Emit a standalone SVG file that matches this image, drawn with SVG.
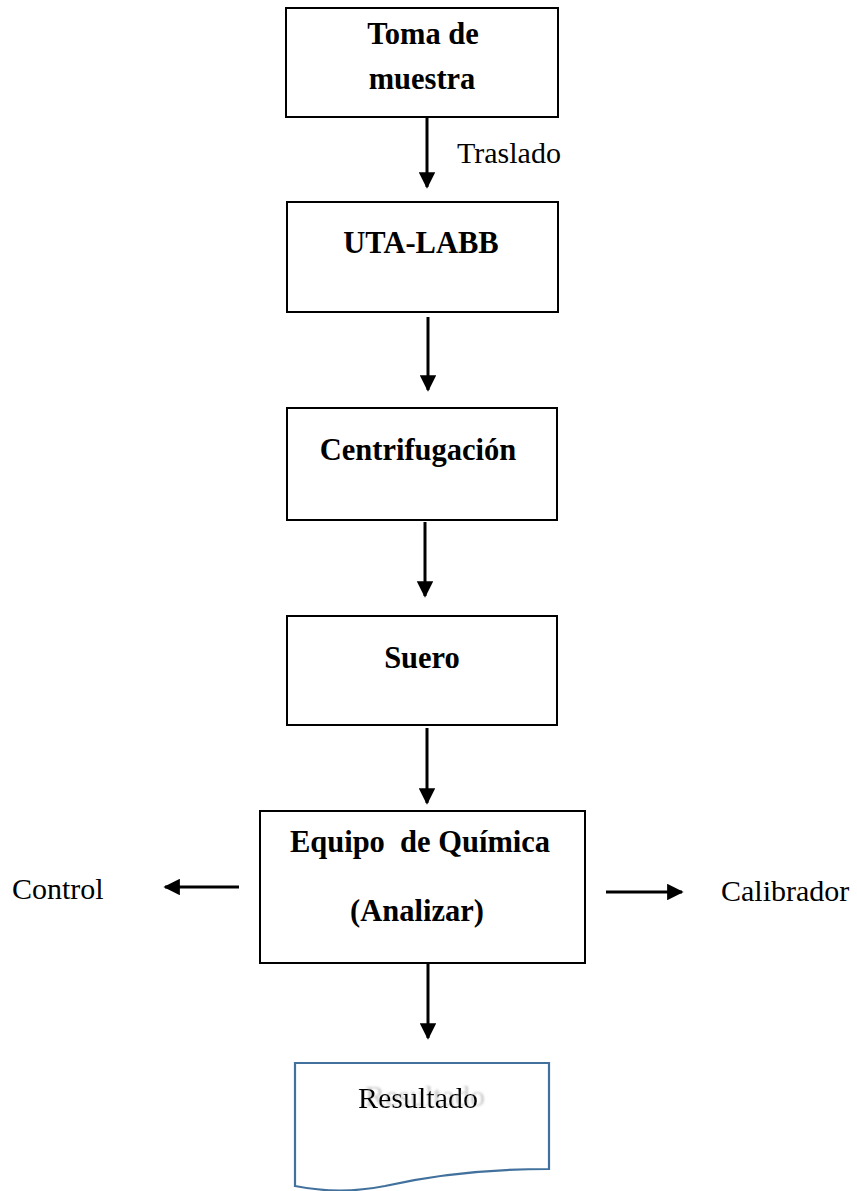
<svg xmlns="http://www.w3.org/2000/svg" width="857" height="1191" viewBox="0 0 857 1191">
<style>
.box{fill:#fff;stroke:#000;stroke-width:2}
.b{font-family:"Liberation Serif","Times New Roman",serif;font-weight:bold;font-size:30.5px;fill:#000;text-anchor:middle}
.r{font-family:"Liberation Serif","Times New Roman",serif;font-size:30px;fill:#000}
.c{stroke:#000;stroke-width:3;fill:none;marker-end:url(#ah)}
.doc{fill:#fff;stroke:#41719C;stroke-width:2.2}
</style>
<defs>
<marker id="ah" viewBox="0 0 10 10" refX="9" refY="5" markerWidth="5.5" markerHeight="5.5" markerUnits="strokeWidth" orient="auto">
<path d="M0,0 L10,5 L0,10 z" fill="#000"/>
</marker>
<filter id="ghost" x="-10%" y="-30%" width="130%" height="160%">
<feOffset in="SourceAlpha" dx="7" dy="-2" result="o"/>
<feGaussianBlur in="o" stdDeviation="0.9" result="b"/>
<feColorMatrix in="b" type="matrix" values="0 0 0 0 0.5  0 0 0 0 0.5  0 0 0 0 0.5  0 0 0 0.8 0" result="g"/>
<feMerge><feMergeNode in="g"/><feMergeNode in="SourceGraphic"/></feMerge>
</filter>
</defs>
<g id="connectors">
<line class="c" x1="427" y1="118" x2="427" y2="187"/>
<line class="c" x1="428" y1="317" x2="428" y2="390"/>
<line class="c" x1="425" y1="522" x2="425" y2="596"/>
<line class="c" x1="427" y1="728" x2="427" y2="803"/>
<line class="c" x1="428" y1="964" x2="428" y2="1038"/>
<line class="c" x1="239" y1="887" x2="165" y2="887"/>
<line class="c" x1="606" y1="892" x2="682" y2="892"/>
<text class="r" x="457" y="163">Traslado</text>
</g>
<g id="n1">
<rect class="box" x="286" y="8" width="272" height="109"/>
<text class="b" x="423" y="44">Toma de</text>
<text class="b" x="422" y="89">muestra</text>
</g>
<g id="n2">
<rect class="box" x="287" y="202" width="271" height="110"/>
<text class="b" x="421" y="253">UTA-LABB</text>
</g>
<g id="n3">
<rect class="box" x="287" y="408" width="270" height="112"/>
<text class="b" x="418" y="460">Centrifugación</text>
</g>
<g id="n4">
<rect class="box" x="287" y="616" width="270" height="109"/>
<text class="b" x="422" y="668">Suero</text>
</g>
<g id="n5">
<rect class="box" x="260" y="811" width="325" height="152"/>
<text class="b" x="420" y="852" xml:space="preserve">Equipo  de Química</text>
<text class="b" x="417" y="921">(Analizar)</text>
</g>
<g id="n6">
<text class="r" x="12" y="899">Control</text>
</g>
<g id="n7">
<text class="r" x="721" y="901">Calibrador</text>
</g>
<g id="n8">
<path class="doc" d="M295,1063 L549,1063 L549,1169 C470,1169 420,1178 385,1186 C350,1193 320,1191 295,1186 Z"/>
<text class="r" x="418" y="1108" text-anchor="middle" filter="url(#ghost)">Resultado</text>
</g>
</svg>
